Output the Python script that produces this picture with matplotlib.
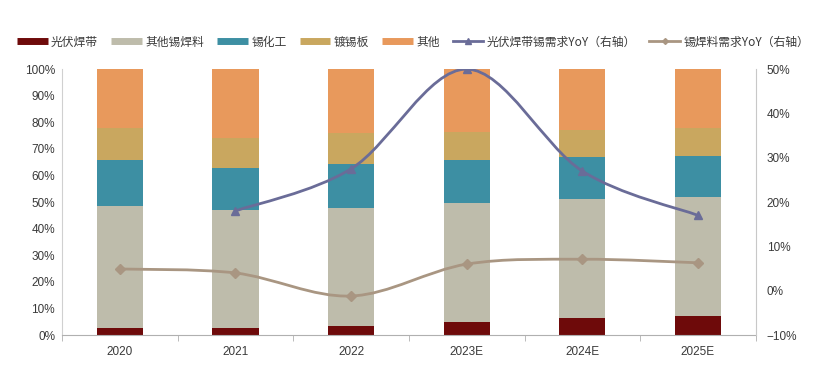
import numpy as np
import matplotlib
matplotlib.use('Agg')
import matplotlib.pyplot as plt
from matplotlib.path import Path
from matplotlib.patches import PathPatch
from matplotlib.lines import Line2D
from matplotlib.ticker import PercentFormatter

plt.rcParams['font.family'] = ['Noto Sans CJK SC', 'DejaVu Sans']

# Data
years = ['2020', '2021', '2022', '2023E', '2024E', '2025E']
pv_ribbon = [2.6, 2.6, 3.5, 5.0, 6.3, 7.1]          # 光伏焊带
other_solder = [45.9, 44.4, 44.2, 44.5, 44.7, 44.9]  # 其他锡焊料
tin_chem = [17.3, 16.0, 16.5, 16.3, 16.0, 15.4]      # 锡化工
tinplate = [12.0, 11.0, 11.7, 10.7, 10.0, 10.4]      # 镀锡板
others = [22.2, 26.0, 24.1, 23.5, 23.0, 22.2]        # 其他
pv_yoy_years = ['2021', '2022', '2023E', '2024E', '2025E']
pv_yoy = [18.0, 27.5, 50.0, 27.0, 17.0]              # 光伏焊带锡需求YoY
solder_yoy = [4.9, 4.0, -1.2, 6.0, 7.1, 6.3]         # 锡焊料需求YoY

bar_names = ['光伏焊带', '其他锡焊料', '锡化工', '镀锡板', '其他']
bar_colors = ['#6E0A0A', '#BEBCAB', '#3D8FA3', '#C9A75F', '#E8995C']
line1_color = '#6A6C98'
line2_color = '#A99682'
txt_color = '#3A3A3A'
num_font = ['Liberation Sans', 'DejaVu Sans']


def smooth_path(xs, ys):
    # catmull-rom style bezier, like excel's smoothed line
    pts = np.column_stack([xs, ys]).astype(float)
    verts = [pts[0]]
    codes = [Path.MOVETO]
    n = len(pts)
    for i in range(n - 1):
        p0 = pts[i - 1] if i > 0 else pts[i]
        p1 = pts[i]
        p2 = pts[i + 1]
        p3 = pts[i + 2] if i + 2 < n else pts[i + 1]
        c1 = p1 + (p2 - p0) / 6.0
        c2 = p2 - (p3 - p1) / 6.0
        verts += [c1, c2, p2]
        codes += [Path.CURVE4] * 3
    return Path(verts, codes)


def style_labels(labels):
    for lbl in labels:
        lbl.set_fontsize(8.5)
        lbl.set_color(txt_color)
        lbl.set_family(num_font)


fig = plt.figure(figsize=(8.26, 3.82), dpi=100, facecolor='white')
ax = fig.add_axes([0.075, 0.123, 0.84, 0.696])
x = np.arange(len(years))

bottom = np.zeros(len(years))
for vals, name, clr in zip([pv_ribbon, other_solder, tin_chem, tinplate, others],
                           bar_names, bar_colors):
    ax.bar(x, vals, width=0.4, bottom=bottom, color=clr, label=name, zorder=2)
    bottom += np.array(vals)

ax.set_xlim(-0.5, len(years) - 0.5)
ax.set_ylim(0, 100)
ax.set_yticks(np.arange(0, 101, 10))
ax.yaxis.set_major_formatter(PercentFormatter(decimals=0))
ax.set_xticks(x)
ax.set_xticklabels(years)
ax.set_xticks(np.arange(-0.5, len(years), 1), minor=True)
ax.tick_params(axis='x', which='major', length=0, pad=8)
ax.tick_params(axis='x', which='minor', length=4, color='#B0B0B0')
ax.tick_params(axis='y', length=0, pad=5)
style_labels(ax.get_xticklabels() + ax.get_yticklabels())
ax.spines['top'].set_visible(False)
ax.spines['right'].set_visible(False)
ax.spines['left'].set_color('#D0D0D0')
ax.spines['bottom'].set_color('#B0B0B0')

ax2 = ax.twinx()
ax2.set_ylim(-10, 50)
ax2.set_yticks(np.arange(-10, 51, 10))
ax2.yaxis.set_major_formatter(PercentFormatter(decimals=0))
ax2.tick_params(axis='y', length=0, pad=8)
style_labels(ax2.get_yticklabels())
for s in ['top', 'left', 'bottom']:
    ax2.spines[s].set_visible(False)
ax2.spines['right'].set_color('#C8C8C8')

x1 = np.array([years.index(y) for y in pv_yoy_years])
ax2.add_patch(PathPatch(smooth_path(x1, pv_yoy), facecolor='none',
                        edgecolor=line1_color, lw=2, zorder=3))
ax2.plot(x1, pv_yoy, linestyle='none', marker='^', ms=6, color=line1_color, zorder=4)
ax2.add_patch(PathPatch(smooth_path(x, solder_yoy), facecolor='none',
                        edgecolor=line2_color, lw=2, zorder=3))
ax2.plot(x, solder_yoy, linestyle='none', marker='D', ms=5, color=line2_color, zorder=4)

handles = [Line2D([0], [0], color=c, lw=5, solid_capstyle='butt') for c in bar_colors]
handles += [Line2D([0], [0], color=line1_color, lw=2, marker='^', ms=4),
            Line2D([0], [0], color=line2_color, lw=2, marker='D', ms=3)]
labels = bar_names + ['光伏焊带锡需求YoY（右轴）', '锡焊料需求YoY（右轴）']
fig.legend(handles, labels, loc='center', bbox_to_anchor=(0.5, 0.89), ncol=7,
           frameon=False, handlelength=2.6, handletextpad=0.3,
           columnspacing=1.1, prop={'family': ['Noto Sans CJK SC', 'DejaVu Sans'], 'size': 8.5},
           labelcolor=txt_color)

fig.savefig('out.png', dpi=100, facecolor='white')
